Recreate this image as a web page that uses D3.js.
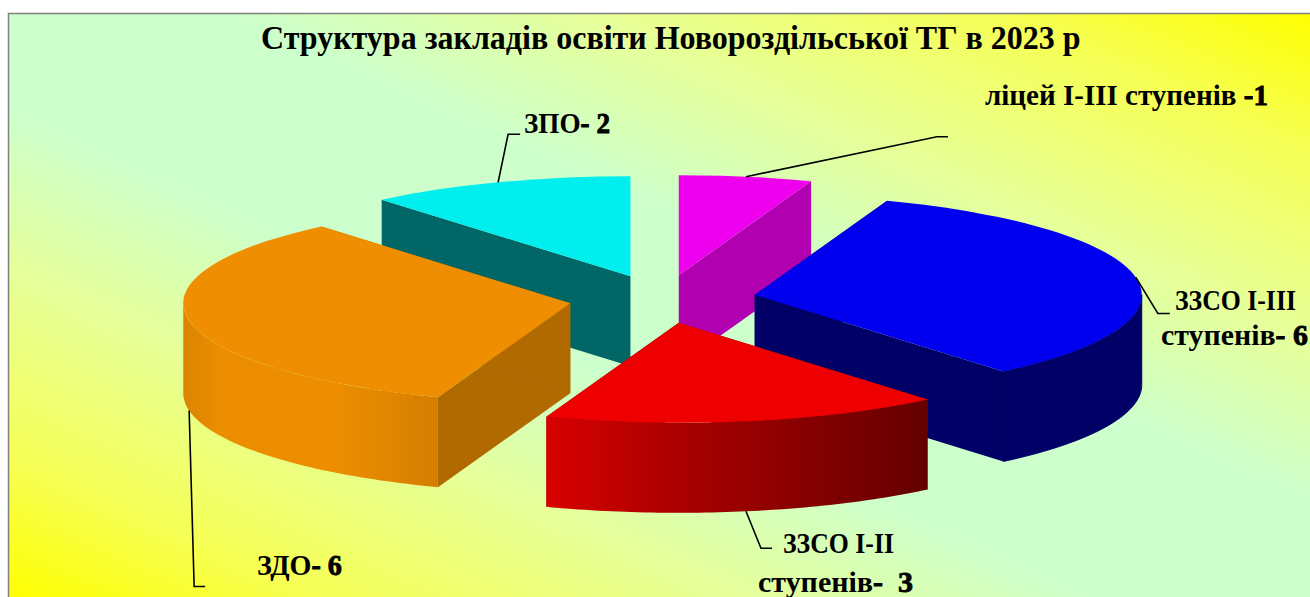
<!DOCTYPE html>
<html lang="uk">
<head>
<meta charset="utf-8">
<script src="https://cdn.jsdelivr.net/npm/d3@7"></script>
<style>
html,body{margin:0;padding:0;background:#fff;overflow:hidden}
svg{display:block}
text{font-family:"Liberation Serif",serif;font-weight:bold;fill:#000}
</style>
</head>
<body>
<div id="chart"></div>
<script>
// ---- data ----
const title = "Структура закладів освіти Новороздільської ТГ в 2023 р";
const categories = ["ліцей І-ІІІ ступенів", "ЗЗСО І-ІІІ ступенів", "ЗЗСО І-ІІ ступенів", "ЗДО", "ЗПО"];
const values = [1, 6, 3, 6, 2];
const topColors = ["#ee00ee", "#0000ee", "#ee0000", "#ee8e00", "#00eeee"];
const sideColors = ["#b000b0", "#000066", "#8a0000", "#b06a00", "#006666"];
const labelLines = [
  ["ліцей І-ІІІ ступенів -1"],
  ["ЗЗСО І-ІІІ", "ступенів- 6"],
  ["ЗЗСО І-ІІ", "ступенів-  3"],
  ["ЗДО- 6"],
  ["ЗПО- 2"]
];

// ---- layout ----
const W = 1310, H = 597;
const frame = {x: 8.5, y: 13.5};
const cx = 662.5, cy = 299, rx = 387, ry = 100, depth = 90, explode = 0.242;
const labelLayout = [
  {x: 985, ys: [105], size: 30, widths: [283]},
  {x: 1175, ys: [310, 345], size: 30, dx2: -14, widths: [121, 147]},
  {x: 783, ys: [553, 592], size: 30, dx2: -25, widths: [111, 155]},
  {x: 257, ys: [575], size: 30, widths: [85]},
  {x: 524, ys: [133], size: 30, widths: [86]}
];
// leader lines: anchor on the slice's mid angle, drop down the wall,
// then offsets of the elbow and the end
const leaders = [
  {drop: 0,  elbow: [191, -40], end: [202, -40]},
  {drop: 0,  elbow: [22, 36],  end: [34, 36]},
  {drop: 90, elbow: [15, 37],  end: [26, 37]},
  {drop: 90, elbow: [5, 176],  end: [16, 176]},
  {drop: 0,  elbow: [10, -48], end: [22, -48]}
];

const svg = d3.select("#chart").append("svg").attr("width", W).attr("height", H);
const defs = svg.append("defs");

// Background: green along the TL-BR diagonal, yellow in the other two corners
const fw = W - frame.x, fh = H - frame.y;
const nLen = Math.hypot(fw, fh);
const nx = fh / nLen, ny = -fw / nLen;
const mx = frame.x + fw / 2, my = frame.y + fh / 2;
const span = Math.abs((W - mx) * nx + (frame.y - my) * ny);
const bg = defs.append("linearGradient").attr("id", "bg")
  .attr("gradientUnits", "userSpaceOnUse")
  .attr("x1", mx - nx * span).attr("y1", my - ny * span)
  .attr("x2", mx + nx * span).attr("y2", my + ny * span);
[[0, "#ffff00"], [0.12, "#f6ff55"], [0.28, "#e6ff99"], [0.42, "#ccffcc"], [0.58, "#ccffcc"], [0.72, "#e6ff99"], [0.88, "#f6ff55"], [1, "#ffff00"]].forEach(([o, c]) =>
  bg.append("stop").attr("offset", o).attr("stop-color", c));

svg.append("rect").attr("x", frame.x).attr("y", frame.y)
  .attr("width", W + 20).attr("height", H + 20)
  .attr("fill", "url(#bg)").attr("stroke", "#7f7f7f").attr("stroke-width", 1.5);

// Wall gradients
function wallGradient(id, stops) {
  const g = defs.append("linearGradient").attr("id", id).attr("x1", 0).attr("x2", 1).attr("y1", 0).attr("y2", 0);
  stops.forEach(([o, c]) => g.append("stop").attr("offset", o).attr("stop-color", c));
  return `url(#${id})`;
}
const wallFills = [
  sideColors[0],
  sideColors[1],
  wallGradient("wall-red", [[0, "#d80000"], [0.3, "#b00000"], [1, "#640000"]]),
  wallGradient("wall-orange", [[0, "#d98400"], [0.15, "#ed8e00"], [0.6, "#ed8e00"], [1, "#d47e00"]]),
  sideColors[4]
];

// Pie and projection
const arcs = d3.pie().sort(null).startAngle(0).endAngle(2 * Math.PI)(values);
const xs = d3.scaleLinear().domain([-1, 1]).range([-rx, rx]);
const ys = d3.scaleLinear().domain([-1, 1]).range([ry, -ry]);
const point = (c, a, r = 1, dz = 0) => [c[0] + xs(r * Math.sin(a)), c[1] + ys(r * Math.cos(a)) + dz];
const centerOf = d => {
  const m = (d.startAngle + d.endAngle) / 2;
  return [cx + xs(explode * Math.sin(m)), cy + ys(explode * Math.cos(m))];
};
const line = d3.line();
const arcSample = (a0, a1) => d3.range(0, 61).map(i => a0 + (a1 - a0) * i / 60);
const topArc = d3.arc().innerRadius(0).outerRadius(rx);

const order = [4, 0, 1, 3, 2]; // back to front
const g = svg.append("g");
order.forEach(i => {
  const d = arcs[i], c = centerOf(d), s = g.append("g").attr("class", "slice");
  // radial walls
  [d.startAngle, d.endAngle].forEach(a => {
    const p = point(c, a);
    const pts = [c, p, [p[0], p[1] + depth], [c[0], c[1] + depth]];
    s.append("path").attr("d", line(pts) + "Z").attr("fill", sideColors[i]);
  });
  // outer wall: only the part facing the viewer
  const a0 = Math.max(d.startAngle, Math.PI / 2), a1 = Math.min(d.endAngle, 1.5 * Math.PI);
  if (a1 > a0) {
    const sm = arcSample(a0, a1);
    const pts = sm.map(a => point(c, a)).concat(sm.slice().reverse().map(a => point(c, a, 1, depth)));
    const w = s.append("path").attr("d", line(pts) + "Z").attr("fill", wallFills[i]);
    if (i === 1) w.attr("stroke", sideColors[1]).attr("stroke-width", 1);
  }
  // top
  s.append("path").attr("d", topArc(d))
    .attr("transform", `translate(${c[0]},${c[1]}) scale(1,${ry / rx})`)
    .attr("fill", topColors[i]);
});

// Leaders
arcs.forEach((d, i) => {
  const c = centerOf(d), l = leaders[i];
  const a = (d.startAngle + d.endAngle) / 2;
  const p = point(c, a, 1, l.drop);
  const pts = [p, [p[0] + l.elbow[0], p[1] + l.elbow[1]], [p[0] + l.end[0], p[1] + l.end[1]]];
  svg.append("path").attr("d", line(pts)).attr("fill", "none").attr("stroke", "#000").attr("stroke-width", 1.6);
});

// Text fitted horizontally by a scale, so that it keeps its real box
function fitted(x, y, size, width, str, heavyDigits) {
  const t = svg.append("text").attr("font-size", size).attr("xml:space", "preserve").style("white-space", "pre");
  if (heavyDigits) {
    str.split(/(-\s*\d)/).filter(Boolean).forEach(part => {
      const sp = t.append("tspan").text(part);
      if (/\d/.test(part)) sp.attr("stroke", "#000").attr("stroke-width", 0.9);
    });
  } else {
    t.text(str);
  }
  const k = width / t.node().getComputedTextLength();
  t.attr("transform", `translate(${x},${y}) scale(${k},1)`);
}

// Title
fitted(261, 49, 34, 820, title, false);

// Labels
labelLines.forEach((lines, i) => {
  const L = labelLayout[i];
  lines.forEach((t, j) => fitted(L.x + (j ? L.dx2 : 0), L.ys[j], L.size, L.widths[j], t, true));
});
</script>
</body>
</html>
